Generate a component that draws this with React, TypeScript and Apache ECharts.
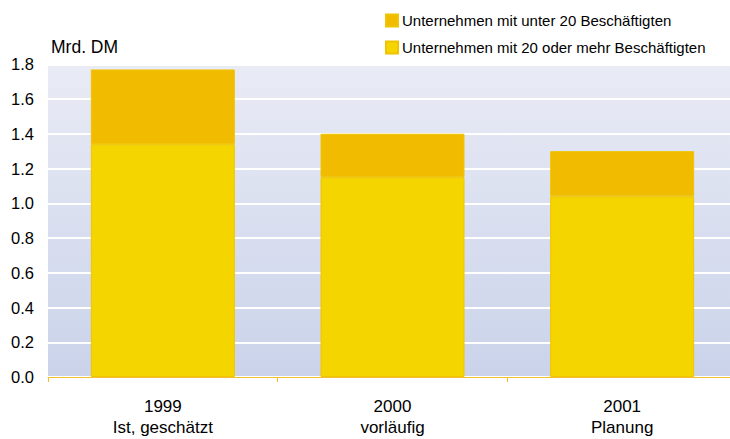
import React, { useEffect, useRef } from "react";
import * as echarts from "echarts";

const categories = ["1999\nIst, geschätzt", "2000\nvorläufig", "2001\nPlanung"];
const seriesNames = [
  "Unternehmen mit unter 20 Beschäftigten",
  "Unternehmen mit 20 oder mehr Beschäftigten",
];
const largeFirms = [1.34, 1.15, 1.04];
const smallFirms = [0.43, 0.25, 0.26];
const yMin = 0;
const yMax = 1.8;
const yStep = 0.2;
const unitLabel = "Mrd. DM";

export default function App() {
  const ref = useRef<HTMLDivElement>(null);
  useEffect(() => {
    if (!ref.current) return;
    const chart = echarts.init(ref.current, null, { renderer: "svg" });
    const font = "Liberation Sans, Arial, sans-serif";
    chart.setOption({
      animation: false,
      textStyle: { fontFamily: font },
      title: {
        text: unitLabel,
        left: 51,
        top: 37,
        padding: 0,
        textStyle: { fontSize: 17.5, fontWeight: "normal", color: "#000", fontFamily: font, lineHeight: 19 },
      },
      legend: {
        orient: "vertical",
        left: 385,
        top: 13,
        padding: 0,
        itemWidth: 12,
        itemHeight: 12,
        itemGap: 12,
        icon: "rect",
        data: [seriesNames[0], seriesNames[1]],
        textStyle: { fontSize: 15, color: "#000", fontFamily: font, lineHeight: 15, padding: [0, 0, 0, -1] },
      },
      grid: {
        left: 48,
        top: 64.25,
        right: 0,
        bottom: 62,
        show: true,
        borderWidth: 0,
        backgroundColor: new echarts.graphic.LinearGradient(0, 0, 0, 1, [
          { offset: 0, color: "#e9ebf5" },
          { offset: 1, color: "#cad3ea" },
        ]),
      },
      xAxis: {
        type: "category",
        data: categories,
        axisLine: { show: true, lineStyle: { color: "#f0c030", width: 1 } },
        axisTick: { show: true, length: 5, lineStyle: { color: "#f0c030" } },
        axisLabel: { fontSize: 17, color: "#000", lineHeight: 21, margin: 19, fontFamily: font },
        splitLine: { show: false },
      },
      yAxis: {
        type: "value",
        min: yMin,
        max: yMax,
        interval: yStep,
        axisLine: { show: false },
        axisTick: { show: false },
        axisLabel: {
          fontSize: 16.5,
          color: "#000",
          margin: 14,
          fontFamily: font,
          formatter: (v: number) => v.toFixed(1),
        },
        splitLine: { show: true, lineStyle: { color: "#ffffff", width: 2 } },
      },
      series: [
        {
          name: seriesNames[1],
          type: "bar",
          stack: "total",
          data: largeFirms,
          barWidth: 144,
          itemStyle: { color: "#f5d500", borderColor: "#f0c400", borderWidth: 1 },
        },
        {
          name: seriesNames[0],
          type: "bar",
          stack: "total",
          data: smallFirms,
          barWidth: 144,
          itemStyle: { color: "#f1bb00", borderColor: "#f0c400", borderWidth: 1 },
        },
      ],
    });
    return () => chart.dispose();
  }, []);
  return (
    <div style={{ width: 730, height: 439, position: "absolute", left: 0, top: 0, overflow: "hidden" }}>
      <div ref={ref} style={{ width: 737, height: 439, position: "absolute", left: 0, top: 0 }} />
    </div>
  );
}
